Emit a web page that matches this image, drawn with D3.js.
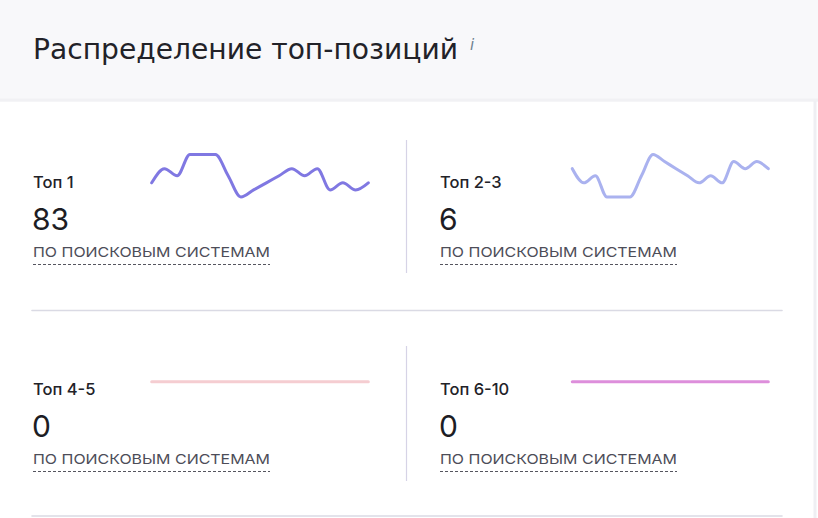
<!DOCTYPE html>
<html><head><meta charset="utf-8">
<script src="https://cdn.jsdelivr.net/npm/d3@7"></script>
<style>
html,body{margin:0;padding:0;background:#fff;}
svg{display:block;}
</style></head>
<body>
<svg id="chart" width="818" height="518"></svg>
<script>
// ---- data ----
const title = "Распределение топ-позиций";
const cardLabels = ["Топ 1", "Топ 2-3", "Топ 4-5", "Топ 6-10"];
const cardTotals = [83, 6, 0, 0];
const subLabel = "ПО ПОИСКОВЫМ СИСТЕМАМ";
const days = d3.range(18);
const top1Series   = [83, 87, 85, 91, 91, 91, 85, 79, 81, 83, 85, 87, 85, 87, 81, 83, 81, 83];
const top23Series  = [6, 4, 5, 2, 2, 2, 5, 8, 7, 6, 5, 4, 5, 4, 7, 6, 7, 6];
const top45Series  = [0, 0, 0, 0, 0, 0, 0, 0, 0, 0, 0, 0, 0, 0, 0, 0, 0, 0];
const top610Series = [0, 0, 0, 0, 0, 0, 0, 0, 0, 0, 0, 0, 0, 0, 0, 0, 0, 0];
const seriesList = [top1Series, top23Series, top45Series, top610Series];
const seriesColors = ["#8078e2", "#aab2ef", "#f5cdd1", "#dd8edb"];

// ---- layout ----
const svg = d3.select("#chart");
const font = "Inter, 'Noto Sans', sans-serif";

// header
svg.append("rect").attr("x",0).attr("y",0).attr("width",818).attr("height",102).attr("fill","#f8f8fa");
svg.append("rect").attr("x",0).attr("y",98.5).attr("width",818).attr("height",3).attr("fill","#f1f1f4");
svg.append("rect").attr("x",813.5).attr("y",101).attr("width",3).attr("height",417).attr("fill","#efeff3");

svg.append("text").attr("x",33).attr("y",58.5)
  .attr("font-family","'Liberation Sans Narrow','DejaVu Sans Condensed',sans-serif")
  .attr("font-size",28).attr("fill","#222228")
  .attr("textLength",425).attr("lengthAdjust","spacingAndGlyphs")
  .text(title);
svg.append("text").attr("x",470).attr("y",49.5)
  .attr("font-family","'DejaVu Sans',sans-serif").attr("font-style","italic")
  .attr("font-size",15).attr("fill","#6f8190").text("i");

// separators
const sepColor = "#dadae4";
[310.5, 516].forEach(y => svg.append("line").attr("x1",32).attr("x2",782).attr("y1",y).attr("y2",y)
  .attr("stroke",sepColor).attr("stroke-width",1.6).attr("stroke-linecap","round"));
[[140,273],[346,481]].forEach(([a,b]) => svg.append("line").attr("x1",406.5).attr("x2",406.5).attr("y1",a).attr("y2",b)
  .attr("stroke","#d6d3e6").attr("stroke-width",1.2));

// cards
const cards = [
  {tx:33,  ty:0,   cx:[151.7,368.3], cy:[197,154.5]},
  {tx:440, ty:0,   cx:[572.3,768.3], cy:[197,154.5]},
  {tx:33,  ty:207, cx:[151.7,368.3], cy:[403,360.5]},
  {tx:440, ty:207, cx:[572.3,768.3], cy:[403,360.5]}
];

cards.forEach((c, i) => {
  const g = svg.append("g");
  g.append("text").attr("x",c.tx).attr("y",187.5+c.ty)
    .attr("font-family",font).attr("font-size",16.5).attr("font-weight",500)
    .attr("fill","#222228").text(cardLabels[i]);
  g.append("text").attr("x",c.tx-1).attr("y",230+c.ty)
    .attr("font-family",font).attr("font-size",30).attr("font-weight",400)
    .attr("fill","#1d1d24").text(cardTotals[i]);
  g.append("text").attr("x",c.tx).attr("y",256.5+c.ty)
    .attr("font-family",font).attr("font-size",13.6).attr("font-weight",400)
    .attr("fill","#4d4d58")
    .attr("textLength",237).attr("lengthAdjust","spacingAndGlyphs")
    .text(subLabel);
  g.append("line").attr("x1",c.tx).attr("x2",c.tx+237).attr("y1",264.5+c.ty).attr("y2",264.5+c.ty)
    .attr("stroke","#55555f").attr("stroke-width",1).attr("stroke-dasharray","3,2");

  const data = seriesList[i];
  const x = d3.scaleLinear().domain(d3.extent(days)).range(c.cx);
  const y = d3.scaleLinear().domain(d3.extent(data)).range(c.cy);
  const line = d3.line().x((d, k) => x(days[k])).y(d => y(d)).curve(d3.curveMonotoneX);
  g.append("path").datum(data).attr("d", line)
    .attr("fill","none").attr("stroke",seriesColors[i]).attr("stroke-width",3)
    .attr("stroke-linecap","round").attr("stroke-linejoin","round");
});
</script>
</body></html>
